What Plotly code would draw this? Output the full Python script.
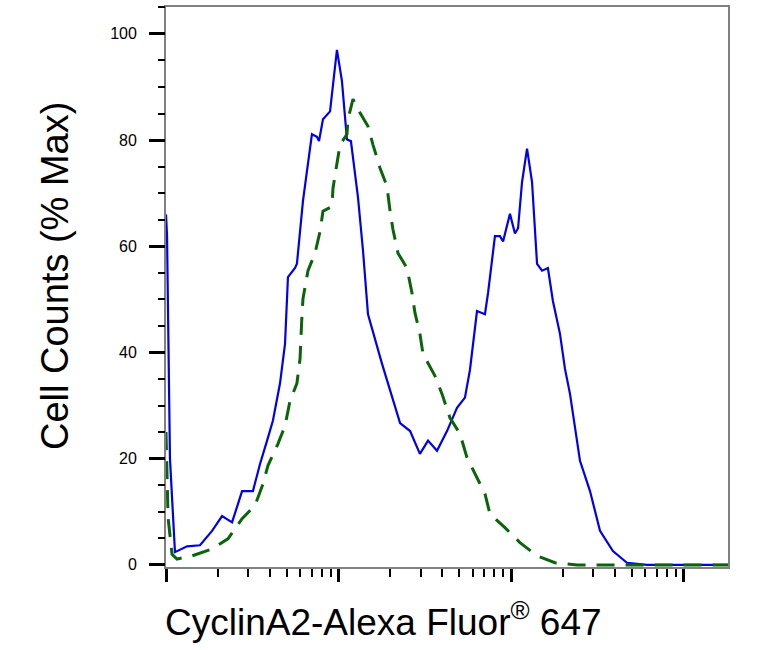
import plotly.graph_objects as go

# Fluorescence intensity, log10 units (axis spans 10^0 .. 10^3.26)
blue_log_x = [0, 0.006, 0.023, 0.052, 0.122, 0.197, 0.267, 0.325, 0.383, 0.441, 0.504, 0.545,
              0.586, 0.620, 0.661, 0.690, 0.707, 0.748, 0.759, 0.794, 0.817, 0.846, 0.875, 0.887,
              0.910, 0.951, 0.974, 0.991, 1.020, 1.049, 1.072, 1.113, 1.142, 1.171, 1.252, 1.310,
              1.357, 1.415, 1.472, 1.519, 1.571, 1.629, 1.687, 1.733, 1.762, 1.803, 1.849, 1.867,
              1.907, 1.936, 1.954, 1.994, 2.023, 2.041, 2.064, 2.093, 2.122, 2.151, 2.180, 2.214,
              2.243, 2.284, 2.313, 2.342, 2.400, 2.458, 2.516, 2.591, 2.672, 2.788, 3.258]
blue_counts = [66, 62, 20, 2.4, 3.5, 3.7, 6.4, 9.2, 8.0, 13.9, 13.9, 19.0,
               23.4, 27.2, 34.2, 41.6, 54.2, 55.9, 56.7, 68.5, 74.1, 81.1, 80.6, 79.8,
               83.9, 85.4, 92.1, 97.0, 91.1, 80.1, 79.8, 69.2, 59.2, 47.2, 37.9, 31.5,
               26.7, 25.2, 20.9, 23.4, 21.5, 25.2, 29.6, 31.5, 36.7, 47.8, 47.2, 51.2,
               61.9, 61.9, 60.9, 66.1, 62.4, 63.4, 72.1, 78.4, 72.1, 56.7, 55.4, 55.9,
               49.7, 43.5, 36.9, 32.2, 19.6, 13.9, 6.4, 2.6, 0.4, 0, 0]

green_log_x = [0, 0.012, 0.035, 0.064, 0.151, 0.267, 0.359, 0.441, 0.516, 0.562, 0.591, 0.649,
               0.690, 0.719, 0.759, 0.777, 0.788, 0.794, 0.823, 0.864, 0.893, 0.910, 0.962, 0.968,
               0.991, 1.009, 1.049, 1.055, 1.084, 1.113, 1.171, 1.200, 1.241, 1.281, 1.299, 1.316,
               1.345, 1.397, 1.426, 1.443, 1.472, 1.490, 1.559, 1.600, 1.646, 1.704, 1.745, 1.791,
               1.849, 1.878, 1.965, 2.052, 2.151, 2.255, 2.383, 3.258]
green_counts = [25, 8.9, 2.0, 1.1, 1.7, 3.0, 4.9, 8.7, 11.2, 15.2, 18.7, 22.8,
                26.2, 30.9, 34.2, 38.8, 46.9, 50.1, 55.4, 58.7, 62.8, 66.6, 67.5, 70.9,
                75.6, 79.1, 81.1, 83.9, 87.7, 85.8, 82.6, 79.1, 74.7, 71.3, 66.6, 63.1,
                58.7, 55.9, 51.2, 47.5, 43.5, 39.7, 35.6, 32.2, 27.7, 24.7, 20.2, 17.2,
                13.4, 9.6, 7.0, 4.2, 1.7, 0.4, 0, 0]

y_major = [0, 20, 40, 60, 80, 100]
y_labels = ["0", "20", "40", "60", "80", "100"]
y_minor = [5, 10, 15, 25, 30, 35, 45, 50, 55, 65, 70, 75, 85, 90, 95, 105]
x_decades = [1, 10, 100, 1000]

blue_x = [10 ** v for v in blue_log_x]
green_x = [10 ** v for v in green_log_x]
x_minor = [d * k for d in x_decades for k in range(2, 10)]
pad = "\u00a0\u00a0"

fig = go.Figure()
fig.add_trace(go.Scatter(x=blue_x, y=blue_counts, mode="lines",
                         line=dict(color="#0000ee", width=2.2), showlegend=False))
fig.add_trace(go.Scatter(x=green_x, y=green_counts, mode="lines",
                         line=dict(color="#0a650a", width=3, dash="18px,11px"),
                         showlegend=False))
# invisible trace registering the overlay y axis that carries the tick marks
fig.add_trace(go.Scatter(x=[1], y=[0], yaxis="y2", mode="markers",
                         marker=dict(opacity=0), showlegend=False, hoverinfo="skip"))

xr = [0, 3.258]
yr = [-0.4, 105.06]
fig.update_layout(
    width=758, height=650,
    margin=dict(l=166, r=30, t=5, b=83),
    paper_bgcolor="white", plot_bgcolor="white",
    font=dict(family="Liberation Sans, Arial, sans-serif", color="black"),
    xaxis=dict(type="log", range=xr, showgrid=False, zeroline=False,
               showline=True, linecolor="#808080", linewidth=2, mirror=True,
               tickmode="array", tickvals=x_decades, showticklabels=False,
               ticks="outside", ticklen=13, tickwidth=3, tickcolor="black",
               minor=dict(tickmode="array", tickvals=x_minor, ticks="outside",
                          ticklen=8, tickwidth=2, tickcolor="black", showgrid=False)),
    yaxis=dict(range=yr, showgrid=False, zeroline=False,
               showline=True, linecolor="#808080", linewidth=2, mirror=True,
               tickmode="array", tickvals=y_major, ticktext=[t + pad for t in y_labels],
               ticks="outside", ticklen=15, tickwidth=3, tickcolor="black",
               tickfont=dict(size=16, color="black")),
    yaxis2=dict(range=yr, overlaying="y", side="left", anchor="x",
                showgrid=False, zeroline=False, showline=False,
                tickmode="array", tickvals=y_major, showticklabels=False,
                ticks="outside", ticklen=15, tickwidth=3, tickcolor="black",
                minor=dict(tickmode="array", tickvals=y_minor, ticks="outside",
                           ticklen=7, tickwidth=2, tickcolor="black", showgrid=False)),
    annotations=[
        dict(text="CyclinA2-Alexa Fluor<sup>®</sup> 647", xref="paper", yref="paper",
             x=(163 - 166) / 562, y=(567 - 620) / 562, xanchor="left", yanchor="middle",
             showarrow=False, font=dict(size=37, color="black")),
        dict(text="Cell Counts (% Max)", xref="paper", yref="paper",
             x=(55 - 166) / 562, y=(567 - 275) / 562, xanchor="center", yanchor="middle",
             textangle=-90, showarrow=False, font=dict(size=38, color="black")),
    ],
)

fig.write_html("out.html")
